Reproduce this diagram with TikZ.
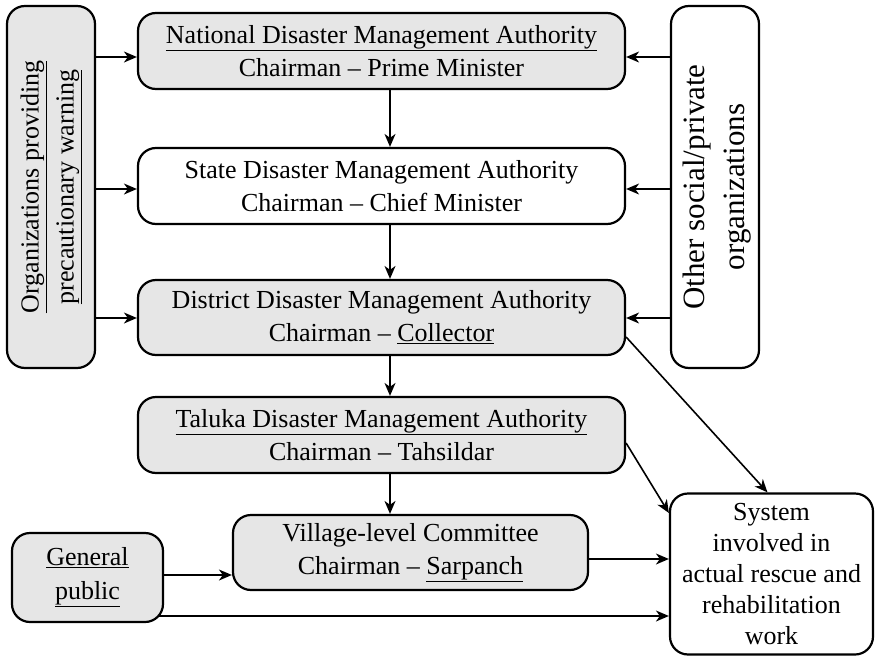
\documentclass[tikz,border=0pt]{standalone}
\usepackage{fontspec}
\setmainfont{Liberation Serif}
\usetikzlibrary{arrows.meta,backgrounds}
\definecolor{boxgray}{HTML}{E6E6E6}
\begin{document}
\begin{tikzpicture}[x=1pt,y=-1pt,
  box/.style={draw, line width=2.2pt, rounded corners=18pt, align=center, inner sep=0pt,
    font=\fontsize{26}{33}\selectfont},
  gbox/.style={box, fill=boxgray},
  wbox/.style={box, fill=white},
  arr/.style={-{Stealth[length=13pt,width=11pt,inset=4pt]}, line width=1.6pt}]
\useasboundingbox (0,0) rectangle (876,656);

\node[gbox, minimum width=88, minimum height=362] (org) at (51,187) {};
\node[rotate=90, align=center, font=\fontsize{26}{35}\selectfont] (orgtext) at (org.center)
  {\underline{Organizations providing}\\\underline{precautionary warning}};

\node[wbox, minimum width=88, minimum height=362] (other) at (715,187) {};
\node[rotate=90, align=center, font=\fontsize{31}{40}\selectfont] (othertext) at ([xshift=2]other.center)
  {Other social/private\\organizations};

\node[gbox, minimum width=487, minimum height=76] (nat) at (381.5,51)
  {\underline{National Disaster Management Authority}\\Chairman -- Prime Minister};
\node[wbox, minimum width=487, minimum height=76] (state) at (381.5,186)
  {State Disaster Management Authority\\Chairman -- Chief Minister};
\node[gbox, minimum width=487, minimum height=75] (dist) at (381.5,317.5)
  {District Disaster Management Authority\\Chairman -- \underline{Collector}};
\node[gbox, minimum width=487, minimum height=76] (tal) at (381.5,435)
  {\underline{Taluka Disaster Management Authority}\\Chairman -- Tahsildar};
\node[gbox, minimum width=355, minimum height=75] (vil) at (410.5,552.5)
  {Village-level Committee\\Chairman -- \underline{Sarpanch}};
\node[gbox, minimum width=151, minimum height=89, font=\fontsize{26}{34}\selectfont] (gp) at (87.5,577.5)
  {\underline{General}\\\underline{public}};
\node[wbox, minimum width=203, minimum height=161, font=\fontsize{26}{31}\selectfont] (sys) at (771.5,574)
  {System\\involved in\\actual rescue and\\rehabilitation\\work};

% left arrows
\draw[arr] (org.east |- 0,57) -- (nat.west |- 0,57);
\draw[arr] (org.east |- 0,189) -- (state.west |- 0,189);
\draw[arr] (org.east |- 0,318) -- (dist.west |- 0,318);
% right arrows
\draw[arr] (other.west |- 0,57) -- (nat.east |- 0,57);
\draw[arr] (other.west |- 0,189) -- (state.east |- 0,189);
\draw[arr] (other.west |- 0,318) -- (dist.east |- 0,318);
% vertical chain
\draw[arr] (nat.south -| 390,0) -- (state.north -| 390,0);
\draw[arr] (state.south -| 390,0) -- (dist.north -| 390,0);
\draw[arr] (dist.south -| 390,0) -- (tal.north -| 390,0);
\draw[arr] (tal.south -| 390,0) -- (vil.north -| 390,0);
% to system
\draw[arr] (dist.east |- 0,337) -- ([xshift=-4]sys.north);
\draw[arr] (tal.east |- 0,443) -- (sys.west |- 0,513);
\draw[arr] (vil.east |- 0,559) -- (sys.west |- 0,559);
\draw[arr] (gp.east |- 0,575) -- (vil.west |- 0,575);
\begin{pgfonlayer}{background}
\draw[arr] (gp.center |- 0,616) -- (sys.west |- 0,616);
\end{pgfonlayer}
\end{tikzpicture}
\end{document}
